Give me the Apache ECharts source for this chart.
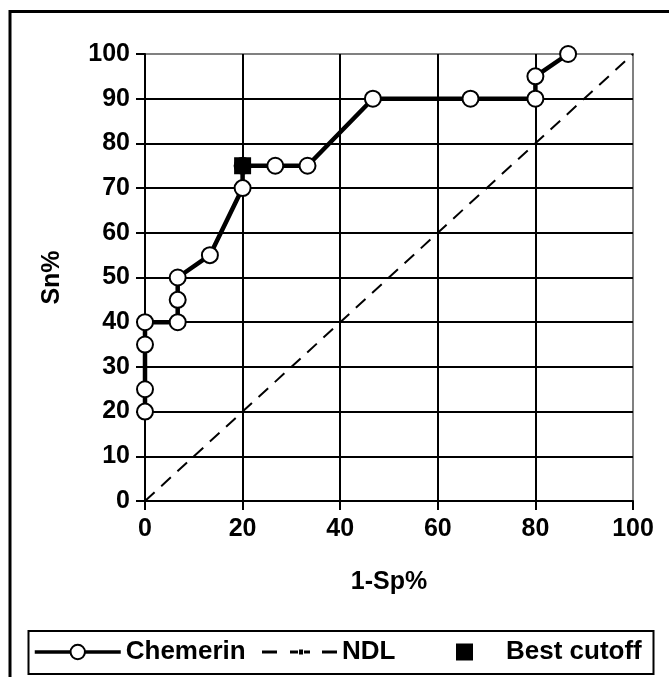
<!DOCTYPE html>
<html>
<head>
<meta charset="utf-8">
<script src="https://cdn.jsdelivr.net/npm/echarts@6/dist/echarts.min.js"></script>
<style>
  html, body { margin: 0; padding: 0; background: #fff; }
  #chart { width: 669px; height: 677px; }
</style>
</head>
<body>
<div id="chart"></div>
<script>
// ROC points (1-Sp% , Sn%)
const chemerinX = [0, 0, 0, 0, 6.7, 6.7, 6.7, 13.3, 20, 20, 26.7, 33.3, 46.7, 66.7, 80, 80, 86.7];
const chemerinY = [20, 25, 35, 40, 40, 45, 50, 55, 70, 75, 75, 75, 90, 90, 90, 95, 100];
// no discrimination line
const ndlX = [0, 100];
const ndlY = [0, 100];
// best cutoff
const bestX = [20];
const bestY = [75];
// axis ranges: [min, max, interval]
const xRange = [0, 100, 20];
const yRange = [0, 100, 10];

const FONT = '"Liberation Sans", Arial, sans-serif';
const txt = { fontFamily: FONT, fontWeight: 'bold', fontSize: 25, color: '#000' };
const nameTxt = { ...txt, fontSize: 25 };
const legendTxt = { ...txt, fontSize: 26 };

const zip = (xs, ys) => xs.map((x, i) => [x, ys[i]]);

const axisCommon = {
  type: 'value',
  nameLocation: 'middle',
  nameTextStyle: nameTxt,
  axisLine: { show: true, onZero: false, lineStyle: { color: '#000', width: 2 } },
  axisTick: { show: true, inside: false, length: 9, lineStyle: { color: '#000', width: 2 } },
  splitLine: { show: true, showMaxLine: false, lineStyle: { color: '#000', width: 2 } }
};

const chart = echarts.init(document.getElementById('chart'));
chart.setOption({
  animation: false,
  backgroundColor: '#fff',
  grid: {
    left: 145, right: 36, top: 54, bottom: 176,
    show: true, borderColor: '#808080', borderWidth: 2, backgroundColor: 'transparent',
    outerBoundsMode: 'none'
  },
  xAxis: {
    ...axisCommon,
    min: xRange[0], max: xRange[1], interval: xRange[2],
    name: '1-Sp%', nameGap: 69,
    axisLabel: { ...txt, margin: 16 }
  },
  yAxis: {
    ...axisCommon,
    min: yRange[0], max: yRange[1], interval: yRange[2],
    name: 'Sn%', nameGap: 80,
    axisLabel: { ...txt, margin: 15 }
  },
  legend: [
    {
      data: ['Chemerin'], left: 33, top: 639, padding: 0,
      itemWidth: 86, itemHeight: 18, selectedMode: false,
      textStyle: legendTxt, lineStyle: { width: 3.5 }
    },
    {
      data: [{ name: 'NDL', icon: 'path://M0,0h15v3h-15z M28,0h8v3h-8z M37,-1h4v5h-4z M42,0h6v3h-6z M60,0h15v3h-15z' }],
      left: 262, top: 639, padding: 0,
      itemWidth: 75, itemHeight: 5, selectedMode: false,
      textStyle: legendTxt
    },
    {
      data: ['Best cutoff'], left: 456, top: 639, padding: 0,
      itemWidth: 17, itemHeight: 17, selectedMode: false,
      textStyle: { ...legendTxt, padding: [0, 0, 0, 28] }
    }
  ],
  graphic: [
    {
      type: 'rect', z: 100, silent: true,
      shape: { x: 10, y: 11.5, width: 700, height: 700 },
      style: { fill: 'none', stroke: '#000', lineWidth: 3 }
    },
    {
      type: 'rect', z: 100, silent: true,
      shape: { x: 28.5, y: 631, width: 625, height: 43 },
      style: { fill: 'none', stroke: '#000', lineWidth: 2 }
    }
  ],
  series: [
    {
      name: 'NDL', type: 'line', z: 2,
      data: zip(ndlX, ndlY),
      symbol: 'none', color: '#000',
      lineStyle: { color: '#000', width: 2, type: [13, 9] }
    },
    {
      name: 'Chemerin', type: 'line', z: 3,
      data: zip(chemerinX, chemerinY),
      symbol: 'circle', symbolSize: 16, showAllSymbol: true,
      itemStyle: { color: '#fff', borderColor: '#000', borderWidth: 2 },
      lineStyle: { color: '#000', width: 4.5 }
    },
    {
      name: 'Best cutoff', type: 'scatter', z: 4,
      data: zip(bestX, bestY),
      symbol: 'rect', symbolSize: 17,
      itemStyle: { color: '#000', opacity: 1 }
    }
  ]
});
</script>
</body>
</html>
